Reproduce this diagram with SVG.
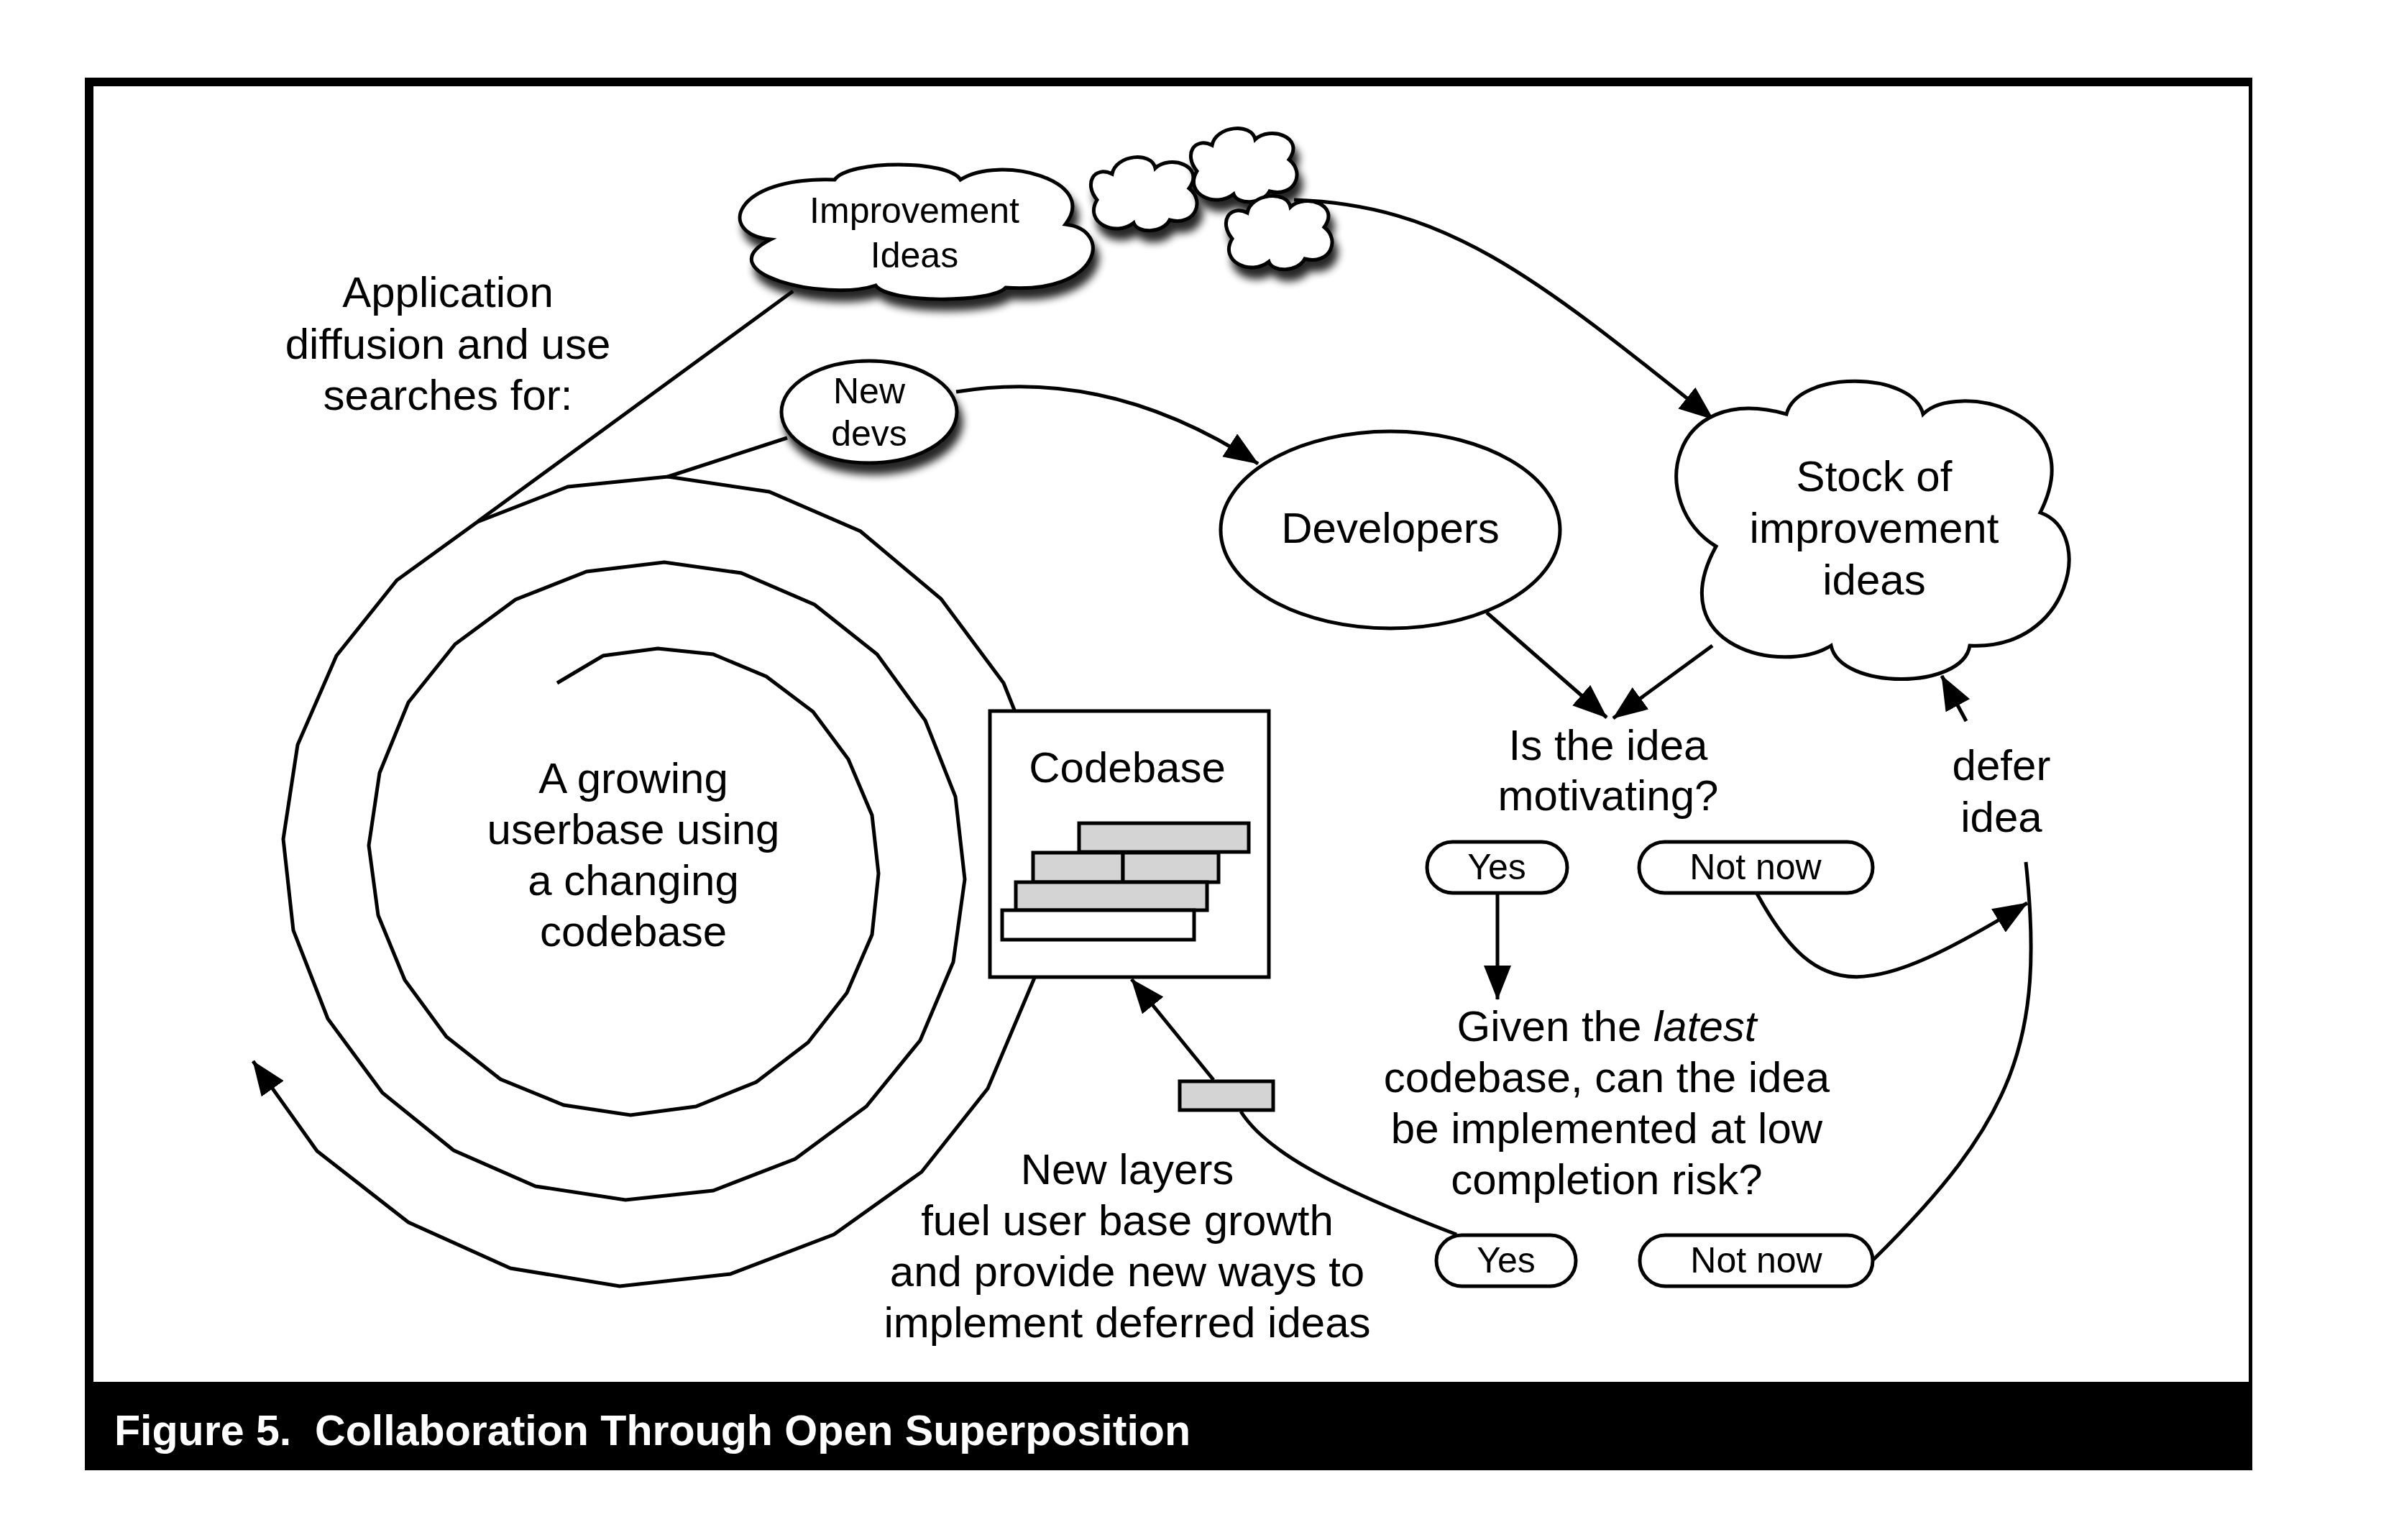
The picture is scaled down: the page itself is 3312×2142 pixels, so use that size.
<svg xmlns="http://www.w3.org/2000/svg" width="3312" height="2142" viewBox="0 0 3312 2142">
<style>
.ln{fill:none;stroke:#000;stroke-width:5;stroke-linejoin:miter}
.nd{fill:#fff;stroke:#000;stroke-width:5}
.ly{fill:#d4d4d4;stroke:#000;stroke-width:5}
.lw{fill:#fff;stroke:#000;stroke-width:5}
.t{font-family:"Liberation Sans",Arial,Helvetica,sans-serif;fill:#000;text-anchor:middle}
.f60{font-size:60px}
.f50{font-size:50px}
.cap{font-family:"Liberation Sans",Arial,Helvetica,sans-serif;font-size:60px;font-weight:bold;fill:#fff;white-space:pre}
</style>
<defs>
<marker id="ah" markerUnits="userSpaceOnUse" markerWidth="52" markerHeight="40" refX="47" refY="19" orient="auto">
<path d="M0,0 L48,19 L0,38 Z" fill="#000"/>
</marker>
<filter id="sh" x="-20%" y="-20%" width="150%" height="160%">
<feGaussianBlur in="SourceAlpha" stdDeviation="6" result="b"/>
<feOffset in="b" dx="6" dy="14" result="o"/>
<feComponentTransfer in="o" result="o2"><feFuncA type="linear" slope="0.85"/></feComponentTransfer>
<feMerge><feMergeNode in="o2"/><feMergeNode in="SourceGraphic"/></feMerge>
</filter>
<path id="smallcloud" d="M-66,8 C-85,-15 -70,-40 -45,-28 C-40,-55 10,-60 15,-36 C35,-55 85,-40 62,-8 C85,10 70,45 35,36 C25,55 -10,55 -15,40 C-40,60 -85,40 -66,8 Z"/>
</defs>

<g id="frame">
<rect x="118" y="108" width="3015" height="1937" fill="#000"/>
<rect x="130" y="120" width="2998" height="1802" fill="#fff"/>
<text class="cap" x="159" y="2010" xml:space="preserve" textLength="1497" lengthAdjust="spacingAndGlyphs">Figure 5.  Collaboration Through Open Superposition</text>
</g>

<g id="connectors">
<path class="ln" d="M775,950 L839,912 L915,902 L992,910 L1066,941 L1131,990 L1180,1056 L1213,1134 L1222,1215 L1213,1300 L1178,1381 L1124,1450 L1052,1505 L968,1539 L877,1551 L784,1537 L696,1501 L621,1442 L563,1363 L526,1273 L513,1176 L528,1075 L568,977 L633,896 L717,834 L816,795 L924,782 L1031,797 L1133,841 L1220,910 L1287,1002 L1329,1108 L1342,1223 L1326,1338 L1280,1447 L1205,1539 L1106,1612 L992,1656 L870,1669 L745,1650 L631,1600 L532,1520 L456,1417 L408,1294 L394,1167 L414,1036 L468,912 L552,807 L664,726 L790,677 L929,663 L1070,684 L1197,739 L1309,833 L1396,950 L1412,990"/>
<path class="ln" marker-end="url(#ah)" d="M1439,1360 L1374,1514 L1282,1630 L1160,1717 L1016,1772 L862,1789 L710,1764 L568,1700 L441,1601 L352,1476"/>
<path class="ln" d="M1103,405 L665,725"/>
<path class="ln" d="M1095,609 L929,663"/>
<path class="ln" marker-end="url(#ah)" d="M1800,278 C2010,285 2130,380 2383,583"/>
<path class="ln" marker-end="url(#ah)" d="M1330,545 C1480,520 1620,560 1750,645"/>
<path class="ln" marker-end="url(#ah)" d="M2068,852 L2235,998"/>
<path class="ln" marker-end="url(#ah)" d="M2382,898 L2244,999"/>
<path class="ln" marker-end="url(#ah)" d="M2735,1003 L2701,940"/>
<path class="ln" marker-end="url(#ah)" d="M2083,1243 L2083,1390"/>
<path class="ln" marker-end="url(#ah)" d="M2444,1243 C2530,1400 2600,1390 2820,1256"/>
<path class="ln" d="M2606,1752 C2800,1560 2845,1450 2818,1199"/>
<path class="ln" d="M2026,1717 C1850,1650 1760,1600 1726,1546"/>
<path class="ln" marker-end="url(#ah)" d="M1688,1502 L1574,1362"/>
</g>

<g id="improvement-ideas" filter="url(#sh)">
<path class="nd" d="M1072,333 C995,325 1020,245 1161,250 C1180,222 1320,222 1336,250 C1390,215 1530,250 1482,312 C1550,320 1530,410 1399,400 C1380,422 1235,422 1218,397 C1150,420 980,380 1072,333 Z"/>
<text class="t f50" x="1272" y="310">Improvement</text>
<text class="t f50" x="1272" y="372">Ideas</text>
</g>
<g id="cloud-a" filter="url(#sh)"><use href="#smallcloud" class="nd" transform="translate(1592,270)"/></g>
<g id="cloud-b" filter="url(#sh)"><use href="#smallcloud" class="nd" transform="translate(1731,230)"/></g>
<g id="cloud-c" filter="url(#sh)"><use href="#smallcloud" class="nd" transform="translate(1780,324)"/></g>

<g id="new-devs" filter="url(#sh)">
<ellipse class="nd" cx="1209" cy="573" rx="122" ry="71"/>
<text class="t f50" x="1209" y="561">New</text>
<text class="t f50" x="1209" y="620">devs</text>
</g>

<g id="developers">
<ellipse class="nd" cx="1934" cy="737" rx="236" ry="137"/>
<text class="t f60" x="1934" y="755">Developers</text>
</g>

<g id="stock">
<path class="nd" d="M2387,760 C2290,700 2320,530 2485,576 C2500,515 2660,515 2675,576 C2720,530 2910,570 2838,713 C2915,740 2880,905 2740,898 C2730,960 2560,960 2547,898 C2480,940 2310,900 2387,760 Z"/>
<text class="t f60" x="2607" y="683">Stock of</text>
<text class="t f60" x="2607" y="755">improvement</text>
<text class="t f60" x="2607" y="827">ideas</text>
</g>

<g id="codebase">
<rect class="nd" x="1377" y="989" width="388" height="370"/>
<text class="t f60" x="1568" y="1088">Codebase</text>
<rect class="ly" x="1501" y="1145" width="236" height="40"/>
<rect class="ly" x="1437" y="1186" width="125" height="41"/>
<rect class="ly" x="1562" y="1186" width="133" height="41"/>
<rect class="ly" x="1413" y="1227" width="266" height="39"/>
<rect class="lw" x="1394" y="1266" width="267" height="41"/>
</g>

<g id="new-layer">
<rect class="ly" x="1641" y="1504" width="130" height="40"/>
</g>

<g id="label-application">
<text class="t f60" x="623" y="427">Application</text>
<text class="t f60" x="623" y="499">diffusion and use</text>
<text class="t f60" x="623" y="570">searches for:</text>
</g>

<g id="label-userbase">
<text class="t f60" x="881" y="1103">A growing</text>
<text class="t f60" x="881" y="1174">userbase using</text>
<text class="t f60" x="881" y="1245">a changing</text>
<text class="t f60" x="881" y="1316">codebase</text>
</g>

<g id="q-motivating">
<text class="t f60" x="2237" y="1057">Is the idea</text>
<text class="t f60" x="2237" y="1127">motivating?</text>
</g>

<g id="label-defer">
<text class="t f60" x="2784" y="1085">defer</text>
<text class="t f60" x="2784" y="1157">idea</text>
</g>

<g id="yes-1">
<rect class="nd" x="1985" y="1171" width="195" height="71" rx="35.5"/>
<text class="t f50" x="2082" y="1223">Yes</text>
</g>
<g id="notnow-1">
<rect class="nd" x="2280" y="1171" width="325" height="71" rx="35.5"/>
<text class="t f50" x="2442" y="1223">Not now</text>
</g>

<g id="q-risk">
<text class="t f60" x="2235" y="1448">Given the <tspan font-style="italic">latest</tspan></text>
<text class="t f60" x="2235" y="1519">codebase, can the idea</text>
<text class="t f60" x="2235" y="1590">be implemented at low</text>
<text class="t f60" x="2235" y="1661">completion risk?</text>
</g>

<g id="yes-2">
<rect class="nd" x="1998" y="1718" width="194" height="71" rx="35.5"/>
<text class="t f50" x="2095" y="1770">Yes</text>
</g>
<g id="notnow-2">
<rect class="nd" x="2281" y="1718" width="324" height="71" rx="35.5"/>
<text class="t f50" x="2443" y="1770">Not now</text>
</g>

<g id="label-newlayers">
<text class="t f60" x="1568" y="1647">New layers</text>
<text class="t f60" x="1568" y="1718">fuel user base growth</text>
<text class="t f60" x="1568" y="1789">and provide new ways to</text>
<text class="t f60" x="1568" y="1860">implement deferred ideas</text>
</g>
</svg>
